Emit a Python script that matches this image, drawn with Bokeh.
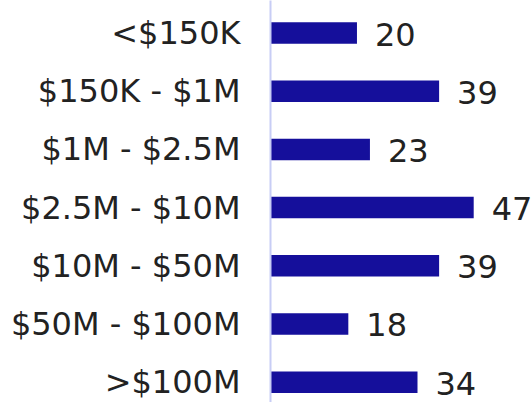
from bokeh.plotting import figure
from bokeh.models import ColumnDataSource, Range1d, FixedTicker
from bokeh.core.properties import value
from bokeh.embed import file_html
from bokeh.resources import INLINE

categories = ["<$150K", "$150K - $1M", "$1M - $2.5M", "$2.5M - $10M",
              "$10M - $50M", "$50M - $100M", ">$100M"]
counts = [20, 39, 23, 47, 39, 18, 34]

idx = list(range(len(categories)))
src = ColumnDataSource(dict(y=idx, v=counts, lbl=[str(c) for c in counts]))

p = figure(width=532, height=402, output_backend="svg", toolbar_location=None,
           x_range=Range1d(0, 60.6), y_range=Range1d(6.35, -0.56),
           min_border_left=270, min_border_right=0, min_border_top=0, min_border_bottom=0)
p.outline_line_color = None
p.xgrid.visible = False
p.ygrid.visible = False
p.xaxis.visible = False

p.hbar(y="y", left=0, right="v", height=0.37, source=src,
       fill_color="#150F9B", line_color=None)
p.text(x="v", y="y", text="lbl", source=src, x_offset=18, y_offset=1,
       text_baseline="middle", text_align="left", text_font=value("DejaVu Sans"),
       text_font_size="32px", text_color="#222222")

ya = p.yaxis[0]
ya.ticker = FixedTicker(ticks=idx)
ya.major_label_overrides = {i: c for i, c in zip(idx, categories)}
ya.major_tick_line_color = None
ya.minor_tick_line_color = None
ya.axis_line_color = "#C8CDF5"
ya.axis_line_width = 2
ya.major_label_text_font = "DejaVu Sans"
ya.major_label_text_font_size = "32px"
ya.major_label_text_color = "#222222"
ya.major_label_standoff = 24

open("out.html", "w").write(file_html(p, INLINE))
